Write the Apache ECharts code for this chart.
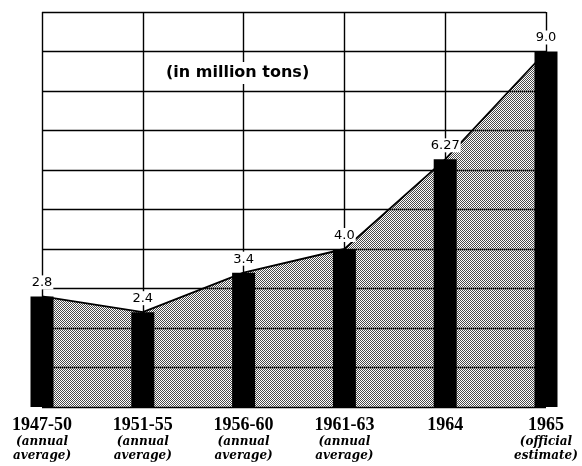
<!DOCTYPE html>
<html>
<head>
<meta charset="utf-8">
<script src="https://cdn.jsdelivr.net/npm/echarts@6/dist/echarts.min.js"></script>
<style>
html,body{margin:0;padding:0;background:#fff;}
#chart{width:582px;height:466px;}
</style>
</head>
<body>
<div id="chart"></div>
<script>
var categories = ['1947-50', '1951-55', '1956-60', '1961-63', '1964', '1965'];
var subLabels = [['(annual', 'average)'], ['(annual', 'average)'], ['(annual', 'average)'], ['(annual', 'average)'], [], ['(official', 'estimate)']];
var values = [2.8, 2.4, 3.4, 4.0, 6.27, 9.0];
var valueLabels = ['2.8', '2.4', '3.4', '4.0', '6.27', '9.0'];
var unitText = '(in million tons)';

// halftone pattern for the shaded area
var pat = document.createElement('canvas');
pat.width = 2; pat.height = 2;
var pctx = pat.getContext('2d');
pctx.fillStyle = '#4a4a4a';
pctx.fillRect(0, 0, 1, 1);
pctx.fillRect(1, 1, 1, 1);

var chart = echarts.init(document.getElementById('chart'), null, {renderer: 'canvas'});
chart.setOption({
  animation: false,
  backgroundColor: '#fff',
  title: {
    text: unitText,
    left: 164,
    top: 62,
    padding: [3, 2],
    backgroundColor: '#fff',
    textStyle: {fontFamily: 'DejaVu Sans', fontSize: 16, fontWeight: 'bold', color: '#000'}
  },
  grid: {left: 42, right: 36, top: 12, bottom: 59, containLabel: false},
  xAxis: {
    type: 'category',
    data: categories,
    boundaryGap: false,
    axisLine: {show: false},
    axisTick: {show: false},
    splitLine: {show: true, lineStyle: {color: '#000', width: 1.4}},
    axisLabel: {
      interval: 0,
      margin: 9,
      formatter: function (v, i) {
        var s = '{a|' + v + '}';
        subLabels[i].forEach(function (t) { s += '\n{b|' + t + '}'; });
        return s;
      },
      rich: {
        a: {fontFamily: 'Liberation Serif', fontWeight: 'bold', fontSize: 18, lineHeight: 19, color: '#000'},
        b: {fontFamily: 'DejaVu Serif', fontStyle: 'italic', fontWeight: 'bold', fontSize: 12, lineHeight: 14, color: '#000'}
      }
    }
  },
  yAxis: {
    type: 'value',
    min: 0, max: 10, interval: 1,
    axisLine: {show: false},
    axisTick: {show: false},
    axisLabel: {show: false},
    splitLine: {show: true, lineStyle: {color: '#000', width: 1.4}}
  },
  series: [
    {
      type: 'line',
      data: values,
      symbol: 'none',
      z: 2,
      lineStyle: {color: '#000', width: 1.8},
      areaStyle: {color: {image: pat, repeat: 'repeat'}, opacity: 1}
    },
    {
      type: 'bar',
      data: values,
      barWidth: 23,
      z: 3,
      itemStyle: {color: '#000'},
      label: {
        show: true,
        position: 'top',
        distance: 7,
        formatter: function (p) { return valueLabels[p.dataIndex]; },
        fontFamily: 'DejaVu Sans',
        fontSize: 13,
        color: '#000',
        backgroundColor: '#fff',
        padding: [1, 1, 0, 1]
      }
    }
  ]
});
</script>
</body>
</html>
